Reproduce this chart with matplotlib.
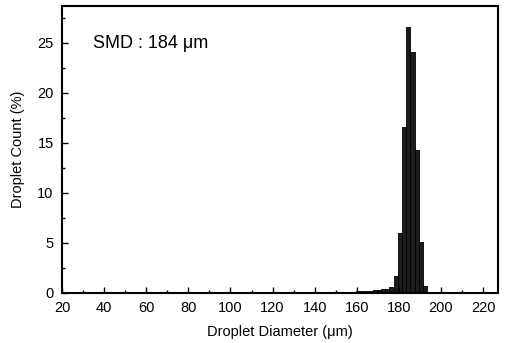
import matplotlib.pyplot as plt
import numpy as np

plt.rcParams['font.family'] = ['Liberation Sans', 'DejaVu Sans']

# droplet size histogram, 2 um bins (bin centres)
diam = [150.5, 152.5, 154.5, 156.5, 158.5, 160.5, 162.5, 164.5, 166.5, 168.5, 170.5,
        172.5, 174.5, 176.5, 178.5, 180.5, 182.5, 184.5, 186.5, 188.5, 190.5, 192.5, 194.5]
count = [0.05, 0.05, 0.08, 0.1, 0.12, 0.15, 0.18, 0.2, 0.22, 0.25, 0.3, 0.35, 0.4, 0.55,
         1.7, 6.0, 16.6, 26.6, 24.1, 14.3, 5.1, 0.7, 0.1]
xticks = [20, 40, 60, 80, 100, 120, 140, 160, 180, 200, 220]
yticks = [0, 5, 10, 15, 20, 25]

fig = plt.figure(figsize=(5.07, 3.43), dpi=100)
ax = fig.add_axes([0.1223, 0.1466, 0.8597, 0.8359])

ax.bar(diam, count, width=2, color='#1c1c1c', edgecolor='black', linewidth=0.6)

ax.set_xlim(20, 227)
ax.set_ylim(0, 28.7)
ax.set_xticks(xticks)
ax.set_yticks(yticks)
ax.set_xticks(np.arange(30, 227, 20), minor=True)
ax.set_yticks(np.arange(2.5, 28.7, 5), minor=True)
ax.tick_params(which='both', direction='in', labelsize=10.5, width=1, pad=6)
ax.tick_params(which='major', length=4)
ax.tick_params(which='minor', length=2.5)
for s in ax.spines.values():
    s.set_linewidth(1.5)

ax.set_xlabel('Droplet Diameter (\u03bcm)', fontsize=10.5, labelpad=7)
ax.set_ylabel('Droplet Count (%)', fontsize=10.5, labelpad=9)
ax.text(0.07, 0.87, 'SMD : 184 \u03bcm', transform=ax.transAxes, fontsize=13,
        va='center', ha='left')

fig.savefig('out.png', dpi=100)
